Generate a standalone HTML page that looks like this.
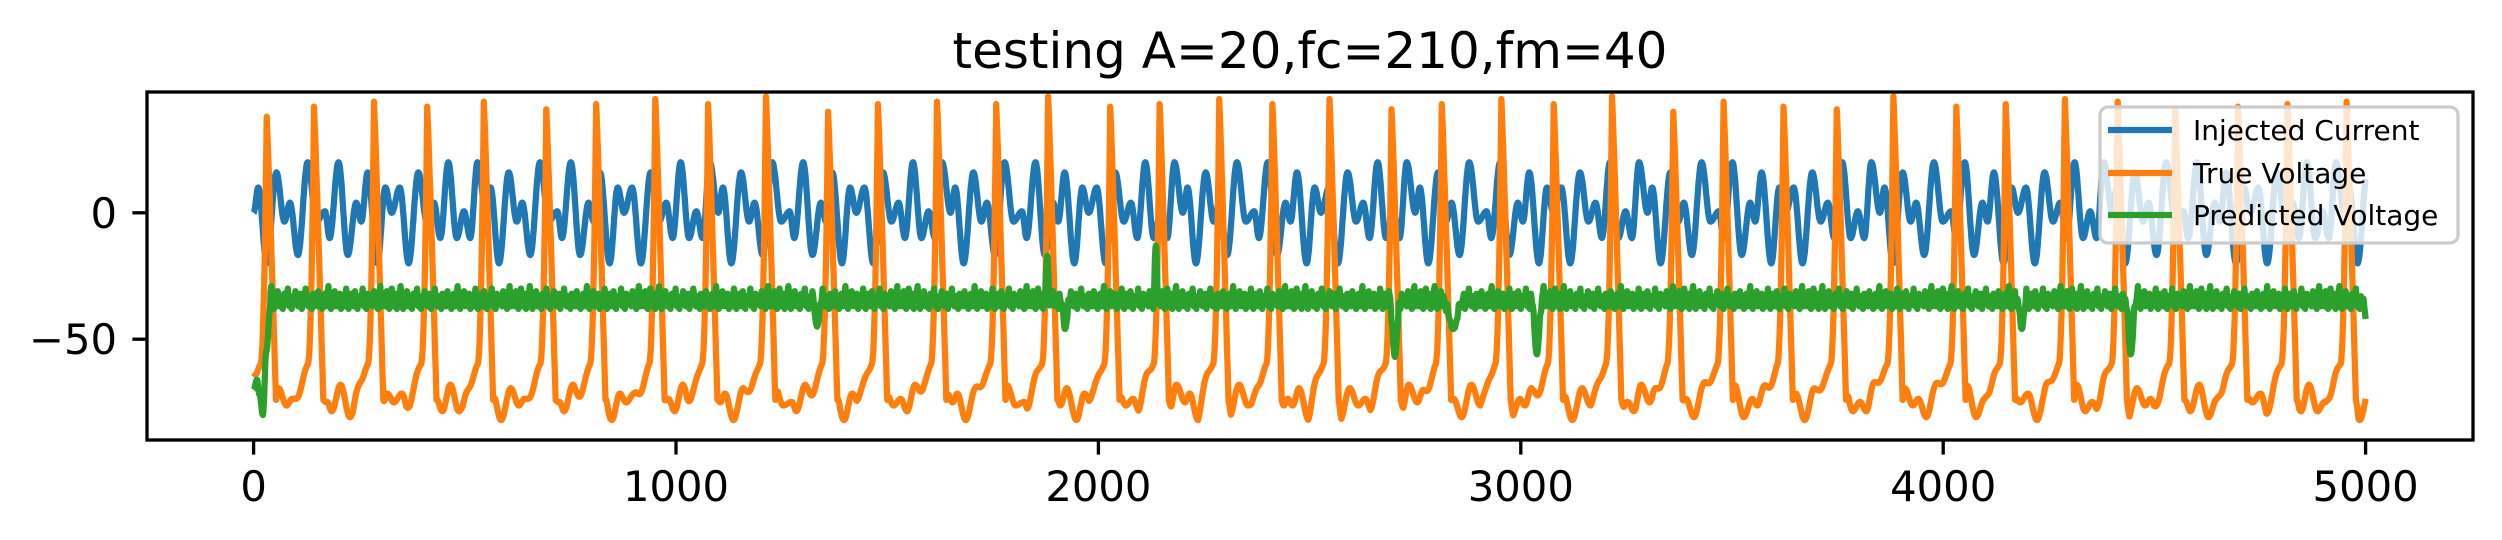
<!DOCTYPE html>
<html><head><meta charset="utf-8"><style>
html,body{margin:0;padding:0;background:#fff;}
svg{display:block;}
text{font-family:"DejaVu Sans","Liberation Sans",sans-serif;fill:#000;}
</style></head><body>
<svg id="chart" width="2502" height="540" viewBox="0 0 2502 540" xmlns="http://www.w3.org/2000/svg">
<defs><clipPath id="clip"><rect x="147" y="92" width="2326" height="348"/></clipPath></defs>
<rect x="0" y="0" width="2502" height="540" fill="#fff"/>
<text x="1310" y="68" font-size="50" text-anchor="middle">testing A=20,fc=210,fm=40</text>
<g id="plot" clip-path="url(#clip)"></g>
<rect x="147" y="92" width="2326" height="348" fill="none" stroke="#000" stroke-width="3.3"/>
<g id="ticks"></g>
<g>
<rect x="2100" y="107" width="358" height="136" rx="8" fill="#fff" fill-opacity="0.8" stroke="#ccc" stroke-width="3.3"/>
<line x1="2108" y1="130" x2="2172" y2="130" stroke="#1f77b4" stroke-width="6.25"/>
<text x="2193" y="140" font-size="28">Injected Current</text>
<line x1="2108" y1="173" x2="2172" y2="173" stroke="#ff7f0e" stroke-width="6.25"/>
<text x="2193" y="183" font-size="28">True Voltage</text>
<line x1="2108" y1="215" x2="2172" y2="215" stroke="#2ca02c" stroke-width="6.25"/>
<text x="2193" y="225" font-size="28">Predicted Voltage</text>
</g>
</svg>
<script>
// ---- data ----
const xTicks = [0, 1000, 2000, 3000, 4000, 5000];
const xTickLabels = ["0", "1000", "2000", "3000", "4000", "5000"];
const yTicks = [0, -50];
const yTickLabels = ["0", "\u221250"];
// injected current: extrema (time, value) for one repeating segment
const blueT = [0, 11, 31, 54, 73, 86, 105, 128, 149, 169, 180, 201, 223, 243, 255, 270, 293, 312, 327, 346, 367, 390, 410, 427, 442, 461, 481, 498, 513, 530, 550];
const blueV = [0, 10, -20, 16, -3.5, 4, -16.7, 20, -3.5, 0.6, -10, 20, -16.7, 4, -3.5, 16, -20, 10, 0, 10, -20, 16, -3.5, 4, -10, 20, -10, 0.6, -10, 20, 0];
const bluePeriod = 550;
// true voltage: spike times
const spikeTimes = [31, 143, 285, 411, 545, 693, 811, 951, 1076, 1213, 1360, 1478, 1618, 1758, 1881, 2028, 2145, 2286, 2412, 2547, 2694, 2813, 2954, 3078, 3216, 3361, 3480, 3622, 3748, 3882, 4031, 4148, 4288, 4413, 4549, 4698, 4815, 4955];
const spikePeak = [38, 42, 44, 42, 44, 41, 43, 45, 43, 46, 40, 43, 44, 43, 46, 42, 43, 45, 43, 45, 41, 43, 45, 43, 46, 40, 44, 42, 41, 46, 42, 43, 45, 44, 41, 42, 43, 44];
// predicted voltage: noise samples (every 3 time units) and events
const greenNoise = [0, 3, -1, 5, 1, -2, 2, 6, -1, 1, 4, -2, 0, 3, 7, 1, -2, 2, 0, 5, -1, 3, 1, -2, 4, 0, 2, 6, -1, 1, -2, 3, 0, 5, 2, -1, 1, 4, -2, 2, 0, 6, 1, -1, 3, 0, -2, 4, 1, 2, -1, 5, 0, 3, -2, 1, 4, -1, 2, 7, 0, -2, 3, 1, 5, -1, 2, 0, 4, -2, 1, 3, -1, 6, 2, -2, 0, 4, 1, -1, 5, 2, -2, 3, 0, 1, 6, -1, 2, -2, 4, 0, 3, 1, -1, 5, 0, 2, -2, 3, 7, -1];
const greenBase = -36;
const eventT = [1334, 1879, 1921, 2136, 2702, 2840, 3038, 4186, 4444];
const eventV = [-45, -17, -46, -13, -57, -46, -56, -46, -56];
const eventW = [10, 6, 10, 6, 12, 22, 12, 10, 12];

// ---- scales ----
const X0 = 253.6, XS = 0.4224, Y0 = 212.8, YS = 2.528;
const sx = t => X0 + t * XS;
const sy = v => Y0 - v * YS;
const NS = "http://www.w3.org/2000/svg";

function interp(T, V, t) {
  for (let i = 0; i < T.length - 1; i++) {
    if (t >= T[i] && t <= T[i + 1]) {
      const f = (t - T[i]) / (T[i + 1] - T[i]);
      const c = (1 - Math.cos(Math.PI * f)) / 2;
      return V[i] + (V[i + 1] - V[i]) * c;
    }
  }
  return V[V.length - 1];
}
function blueAt(t) { return interp(blueT, blueV, ((t % bluePeriod) + bluePeriod) % bluePeriod); }

function orangeAt(t) {
  if (t < 8) return -65 + t * 0.2;
  let v = -75 + 0.35 * blueAt(t - 5);
  for (let k = 0; k < spikeTimes.length; k++) {
    const s = spikeTimes[k], d = t - s, p = spikePeak[k];
    if (d >= -50 && d < -15) {
      const f = (d + 50) / 35;
      v = v * (1 - f) + (-60) * f;
    } else if (d >= -15 && d < 0) {
      const f = (d + 15) / 15;
      v = -60 + (p + 60) * Math.pow(f, 2.2);
    } else if (d >= 0 && d < 22) {
      const f = d / 22;
      v = p + (-74 - p) * Math.pow(f, 1.1);
    } else if (d >= 22 && d < 28) {
      v = -74 * (1 - (d - 22) / 6) + v * ((d - 22) / 6);
    }
  }
  return v;
}

function greenAt(t) {
  if (t < 40) {
    return interp([0, 8, 14, 22, 30, 40], [-70, -66, -72, -80, -55, -37], t);
  }
  const i = Math.floor(t / 3), f = (t / 3) - i;
  const n = greenNoise[i % greenNoise.length] * (1 - f) + greenNoise[(i + 1) % greenNoise.length] * f;
  let v = greenBase + n;
  for (let k = 0; k < eventT.length; k++) {
    const d = Math.abs(t - eventT[k]);
    if (d < eventW[k]) {
      const w = (1 + Math.cos(Math.PI * d / eventW[k])) / 2;
      v = v * (1 - w) + eventV[k] * w;
    }
  }
  if (t > 4990) v = v + (t - 4990) * (-0.6);
  return v;
}

function drawSeries(fn, color, name) {
  const pts = [];
  for (let t = 0; t <= 5000; t += 1) pts.push(sx(t).toFixed(1) + "," + sy(fn(t)).toFixed(1));
  const pl = document.createElementNS(NS, "polyline");
  pl.setAttribute("points", pts.join(" "));
  pl.setAttribute("fill", "none");
  pl.setAttribute("stroke", color);
  pl.setAttribute("stroke-width", "6.25");
  pl.setAttribute("stroke-linejoin", "round");
  
  
  document.getElementById("plot").appendChild(pl);
}
drawSeries(blueAt, "#1f77b4", "injected-current-line");
drawSeries(orangeAt, "#ff7f0e", "true-voltage-line");
drawSeries(greenAt, "#2ca02c", "predicted-voltage-line");

const tg = document.getElementById("ticks");
xTicks.forEach((v, i) => {
  const x = sx(v);
  const l = document.createElementNS(NS, "line");
  l.setAttribute("x1", x); l.setAttribute("x2", x);
  l.setAttribute("y1", 440); l.setAttribute("y2", 454.6);
  l.setAttribute("stroke", "#000"); l.setAttribute("stroke-width", "3.3");
  
  
  tg.appendChild(l);
  const tx = document.createElementNS(NS, "text");
  tx.setAttribute("x", x); tx.setAttribute("y", 501);
  tx.setAttribute("font-size", "41.7"); tx.setAttribute("text-anchor", "middle");
  tx.textContent = xTickLabels[i];
  
  
  tg.appendChild(tx);
});
yTicks.forEach((v, i) => {
  const y = sy(v);
  const l = document.createElementNS(NS, "line");
  l.setAttribute("x1", 132.4); l.setAttribute("x2", 147);
  l.setAttribute("y1", y); l.setAttribute("y2", y);
  l.setAttribute("stroke", "#000"); l.setAttribute("stroke-width", "3.3");
  
  
  tg.appendChild(l);
  const tx = document.createElementNS(NS, "text");
  tx.setAttribute("x", 117); tx.setAttribute("y", y + 15);
  tx.setAttribute("font-size", "41.7"); tx.setAttribute("text-anchor", "end");
  tx.textContent = yTickLabels[i];
  
  
  tg.appendChild(tx);
});
</script>
</body></html>
